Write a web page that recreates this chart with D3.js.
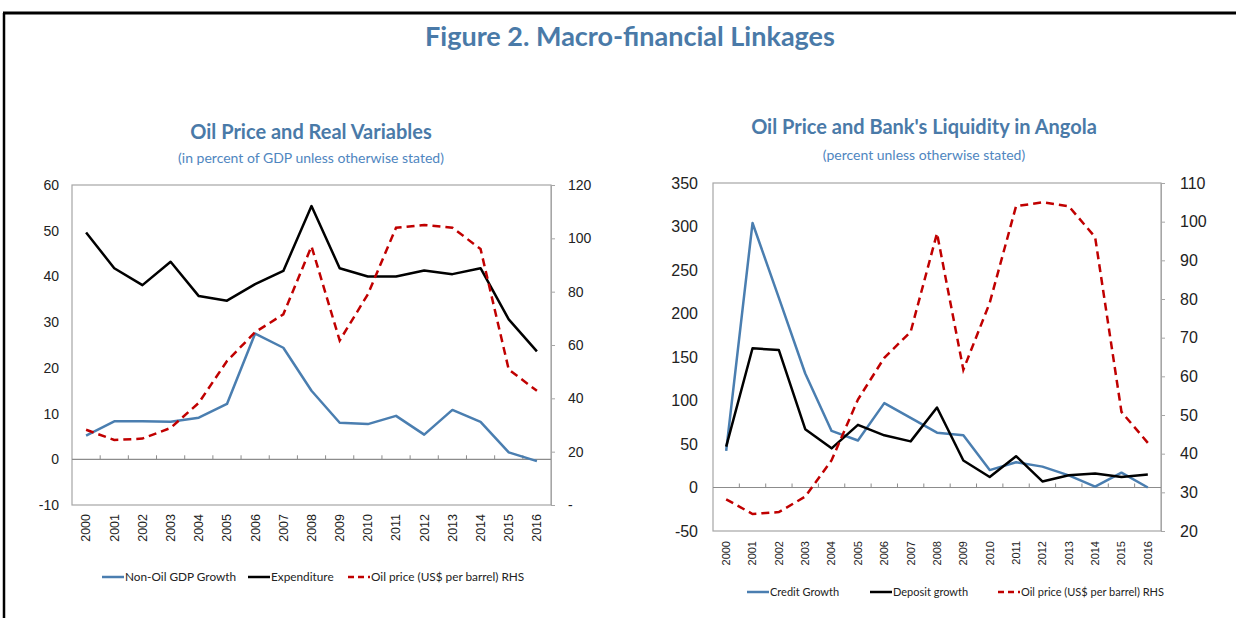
<!DOCTYPE html>
<html>
<head>
<meta charset="utf-8">
<script src="https://cdn.jsdelivr.net/npm/d3@7"></script>
<style>
  body { margin: 0; background: #fff; overflow: hidden; }
  svg { display: block; font-family: "Lato", "Noto Sans", sans-serif; }
</style>
</head>
<body>
<div id="fig"></div>
<script>
// data
var years = ["2000","2001","2002","2003","2004","2005","2006","2007","2008",
             "2009","2010","2011","2012","2013","2014","2015","2016"];

var nonOilGdp = [5.2, 8.3, 8.3, 8.2, 9.1, 12.1, 27.5, 24.4, 15.0, 8.0, 7.7, 9.5, 5.4, 10.8, 8.2, 1.5, -0.4];
var expenditure = [49.6, 41.8, 38.1, 43.2, 35.7, 34.7, 38.3, 41.2, 55.4, 41.8, 40.0, 40.0, 41.3, 40.5, 41.8, 30.6, 23.6];
var oilPrice = [28.2, 24.4, 24.9, 28.9, 38.3, 54.0, 64.8, 71.5, 97.0, 61.7, 79.0, 104.0, 105.0, 104.0, 96.0, 50.8, 42.8];

var creditGrowth = [42, 304, 218, 131, 65, 54, 97, 80, 63, 60, 20, 29, 24, 14, 1, 17, 0];
var depositGrowth = [47, 160, 158, 67, 45, 72, 60, 53, 92, 31, 12, 36, 7, 14, 16, 12, 15];

var leftTicksA = [-10, 0, 10, 20, 30, 40, 50, 60];
var rightTicksA = [0, 20, 40, 60, 80, 100, 120];
var leftTicksB = [-50, 0, 50, 100, 150, 200, 250, 300, 350];
var rightTicksB = [20, 30, 40, 50, 60, 70, 80, 90, 100, 110];

var blue = "#4a7eb0", red = "#c00000", titleBlue = "#4a7aa8", axisGray = "#a6a6a6";

var svg = d3.select("#fig").append("svg")
    .attr("width", 1236)
    .attr("height", 618);

// outer frame (top and left edges only are visible)
svg.append("line")
    .attr("x1", 3).attr("x2", 1236).attr("y1", 13).attr("y2", 13)
    .attr("stroke", "#000").attr("stroke-width", 3);
svg.append("line")
    .attr("x1", 4).attr("x2", 4).attr("y1", 13).attr("y2", 618)
    .attr("stroke", "#000").attr("stroke-width", 2.5);

svg.append("text")
    .attr("x", 630).attr("y", 46)
    .attr("text-anchor", "middle")
    .attr("font-size", 27).attr("font-weight", "bold")
    .attr("fill", titleBlue)
    .text("Figure 2. Macro-financial Linkages");

function panel(cfg) {
  var g = svg.append("g");
  var x = d3.scaleBand().domain(years).range([cfg.left, cfg.right]).padding(0);
  var y = d3.scaleLinear().domain(cfg.yDomain).range([cfg.bottom, cfg.top]);
  var y2 = d3.scaleLinear().domain(cfg.y2Domain).range([cfg.bottom, cfg.top]);
  var cx = function(d, i) { return x(years[i]) + x.bandwidth() / 2; };

  // titles
  g.append("text")
      .attr("x", cfg.titleX).attr("y", cfg.titleY)
      .attr("text-anchor", "middle")
      .attr("font-size", 20).attr("font-weight", "bold")
      .attr("fill", titleBlue)
      .text(cfg.title);
  g.append("text")
      .attr("x", cfg.titleX).attr("y", cfg.subY)
      .attr("text-anchor", "middle")
      .attr("font-size", 14)
      .attr("fill", "#4f86c0")
      .text(cfg.subtitle);

  // plot frame
  g.append("rect")
      .attr("x", cfg.left).attr("y", cfg.top)
      .attr("width", cfg.right - cfg.left).attr("height", cfg.bottom - cfg.top)
      .attr("fill", "none").attr("stroke", axisGray).attr("stroke-width", 1.2);

  // left axis
  var ya = g.append("g")
      .attr("transform", "translate(" + cfg.left + ",0)")
      .call(d3.axisLeft(y).tickValues(cfg.leftTicks).tickSize(0).tickPadding(cfg.lPad)
        .tickFormat(function(d) { return String(d); }));
  ya.select(".domain").remove();
  ya.selectAll("text").attr("font-size", cfg.yFont).attr("fill", "#222")
      .style("font-family", "inherit");

  // right axis
  var yb = g.append("g")
      .attr("transform", "translate(" + cfg.right + ",0)")
      .call(d3.axisRight(y2).tickValues(cfg.rightTicks).tickSize(4).tickPadding(cfg.rPad)
        .tickFormat(function(d) { return d === 0 ? "-" : String(d); }));
  yb.select(".domain").attr("stroke", axisGray);
  yb.selectAll("line").attr("stroke", axisGray);
  yb.selectAll("text").attr("font-size", cfg.yFont).attr("fill", "#222")
      .style("font-family", "inherit");

  // zero line with inside ticks at category boundaries
  var y0 = y(0);
  g.append("line")
      .attr("x1", cfg.left).attr("x2", cfg.right)
      .attr("y1", y0).attr("y2", y0)
      .attr("stroke", "#8c8c8c").attr("stroke-width", 1.2);
  g.selectAll(".zt").data(years.slice(1)).enter().append("line")
      .attr("x1", function(d) { return x(d); })
      .attr("x2", function(d) { return x(d); })
      .attr("y1", y0).attr("y2", y0 - 4)
      .attr("stroke", "#8c8c8c");

  // x labels (rotated)
  var xa = g.append("g")
      .attr("transform", "translate(0," + cfg.bottom + ")")
      .call(d3.axisBottom(x).tickSize(0));
  xa.select(".domain").remove();
  xa.selectAll("text")
      .attr("transform", "rotate(-90)")
      .attr("text-anchor", "end")
      .attr("x", -cfg.xPad).attr("y", 0).attr("dy", "0.35em")
      .attr("font-size", cfg.xFont).attr("fill", "#222")
      .style("font-family", "inherit");

  // series
  var line1 = d3.line().x(cx).y(function(d) { return y(d); });
  var line2 = d3.line().x(cx).y(function(d) { return y2(d); });

  g.append("path").datum(cfg.s1)
      .attr("d", line1).attr("fill", "none")
      .attr("stroke", blue).attr("stroke-width", 2.5).attr("stroke-linejoin", "round");
  g.append("path").datum(cfg.s2)
      .attr("d", line1).attr("fill", "none")
      .attr("stroke", "#000").attr("stroke-width", 2.5).attr("stroke-linejoin", "round");
  g.append("path").datum(oilPrice)
      .attr("d", line2).attr("fill", "none")
      .attr("stroke", red).attr("stroke-width", 2.5).attr("stroke-dasharray", "8,5");

  // legend
  var items = [
    {name: cfg.names[0], color: blue, dash: null, x: cfg.legX[0]},
    {name: cfg.names[1], color: "#000", dash: null, x: cfg.legX[1]},
    {name: "Oil price (US$ per barrel) RHS", color: red, dash: "6,4", x: cfg.legX[2]}
  ];
  var lg = g.selectAll(".leg").data(items).enter().append("g")
      .attr("transform", function(d) { return "translate(" + d.x + "," + cfg.legY + ")"; });
  lg.append("line")
      .attr("x1", 0).attr("x2", 22)
      .attr("stroke", function(d) { return d.color; })
      .attr("stroke-width", 2.5)
      .attr("stroke-dasharray", function(d) { return d.dash; });
  lg.append("text")
      .attr("x", 23).attr("dy", "0.35em")
      .attr("font-size", cfg.legFont).attr("fill", "#222")
      .text(function(d) { return d.name; });
}

panel({
  left: 72, right: 551, top: 185, bottom: 505,
  yDomain: [-10, 60], y2Domain: [0, 120],
  leftTicks: leftTicksA, rightTicks: rightTicksA,
  lPad: 13, rPad: 13, yFont: 14, xFont: 12.5, xPad: 9,
  s1: nonOilGdp, s2: expenditure,
  title: "Oil Price and Real Variables",
  subtitle: "(in percent of GDP unless otherwise stated)",
  titleX: 311, titleY: 139, subY: 163,
  names: ["Non-Oil GDP Growth", "Expenditure"],
  legX: [102, 248, 348], legY: 577, legFont: 11.8
});

panel({
  left: 713, right: 1161, top: 183, bottom: 531,
  yDomain: [-50, 350], y2Domain: [20, 110],
  leftTicks: leftTicksB, rightTicks: rightTicksB,
  lPad: 15, rPad: 15, yFont: 16, xFont: 11, xPad: 10,
  s1: creditGrowth, s2: depositGrowth,
  title: "Oil Price and Bank's Liquidity in Angola",
  subtitle: "(percent unless otherwise stated)",
  titleX: 924, titleY: 134, subY: 160,
  names: ["Credit Growth", "Deposit growth"],
  legX: [747, 870, 998], legY: 592, legFont: 11
});
</script>
</body>
</html>
